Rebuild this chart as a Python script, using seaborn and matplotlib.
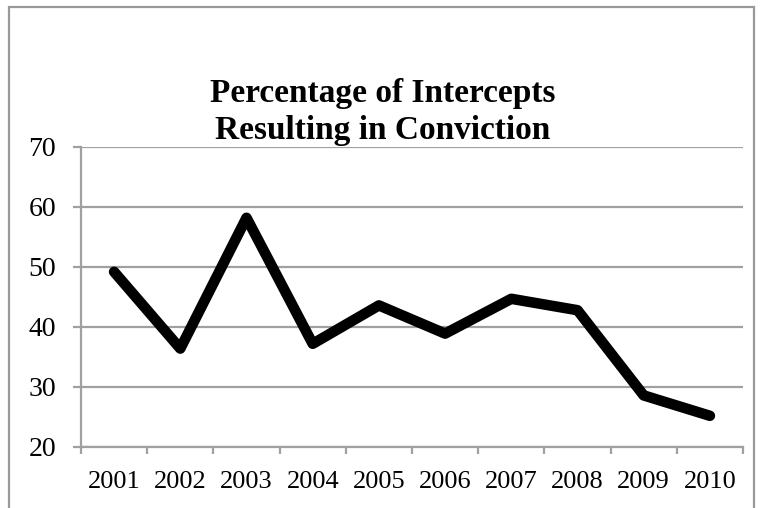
import matplotlib
matplotlib.use("Agg")
import matplotlib.pyplot as plt
from matplotlib.patches import Rectangle
import seaborn as sns
import pandas as pd

# Share of intercepts that ended in a conviction, by year
years = ["2001", "2002", "2003", "2004", "2005", "2006", "2007", "2008", "2009", "2010"]
percent_convicted = [49.2, 36.4, 58.2, 37.2, 43.6, 38.9, 44.7, 42.8, 28.6, 25.2]
y_ticks = [20, 30, 40, 50, 60, 70]
title_text = "Percentage of Intercepts\nResulting in Conviction"

sns.set_theme(style="white")
plt.rcParams["font.family"] = ["Liberation Serif", "DejaVu Serif"]
plt.rcParams["text.color"] = "black"
plt.rcParams["xtick.labelcolor"] = "black"
plt.rcParams["ytick.labelcolor"] = "black"

df = pd.DataFrame({"year": years, "pct": percent_convicted})

W, H = 765, 508
fig = plt.figure(figsize=(W / 100, H / 100), dpi=100)
ax = fig.add_axes([81 / W, 1 - 447 / H, (743 - 81) / W, (447 - 147) / H])

grid_col = "#a0a0a0"

sns.lineplot(data=df, x="year", y="pct", ax=ax, color="black", linewidth=7.6,
             solid_capstyle="round", solid_joinstyle="round", sort=False)

ax.set_xlim(-0.5, len(years) - 0.5)
ax.set_ylim(y_ticks[0], y_ticks[-1])
ax.set_yticks(y_ticks)
ax.set_yticklabels([str(t) for t in y_ticks])
ax.set_xticks(range(len(years)))
ax.set_xticklabels(years)
ax.set_xticks([i - 0.5 for i in range(len(years) + 1)], minor=True)

ax.yaxis.grid(True, color=grid_col, linewidth=1.6)
ax.xaxis.grid(False)
ax.set_axisbelow(True)

for side in ("top", "right"):
    ax.spines[side].set_visible(False)
for side in ("left", "bottom"):
    ax.spines[side].set_color(grid_col)
    ax.spines[side].set_linewidth(1.6)

ax.tick_params(axis="x", which="major", length=0, pad=17, labelsize=19)
ax.tick_params(axis="x", which="minor", length=5, width=1.6, color=grid_col, bottom=True)
ax.tick_params(axis="y", which="major", length=6, width=1.6, color=grid_col,
               pad=12, labelsize=20, left=True)
ax.set_xlabel("")
ax.set_ylabel("")

fig.text(0.5, 1 - 112 / H, title_text, ha="center", va="center",
         fontsize=24, fontweight="bold", linespacing=1.25)

fig.add_artist(Rectangle((8.5 / W, -0.02), (754 - 8.5) / W, 1.02 - 7.5 / H,
                         transform=fig.transFigure, fill=False,
                         edgecolor="#999999", linewidth=1.6))

fig.savefig("out.png", dpi=100)
